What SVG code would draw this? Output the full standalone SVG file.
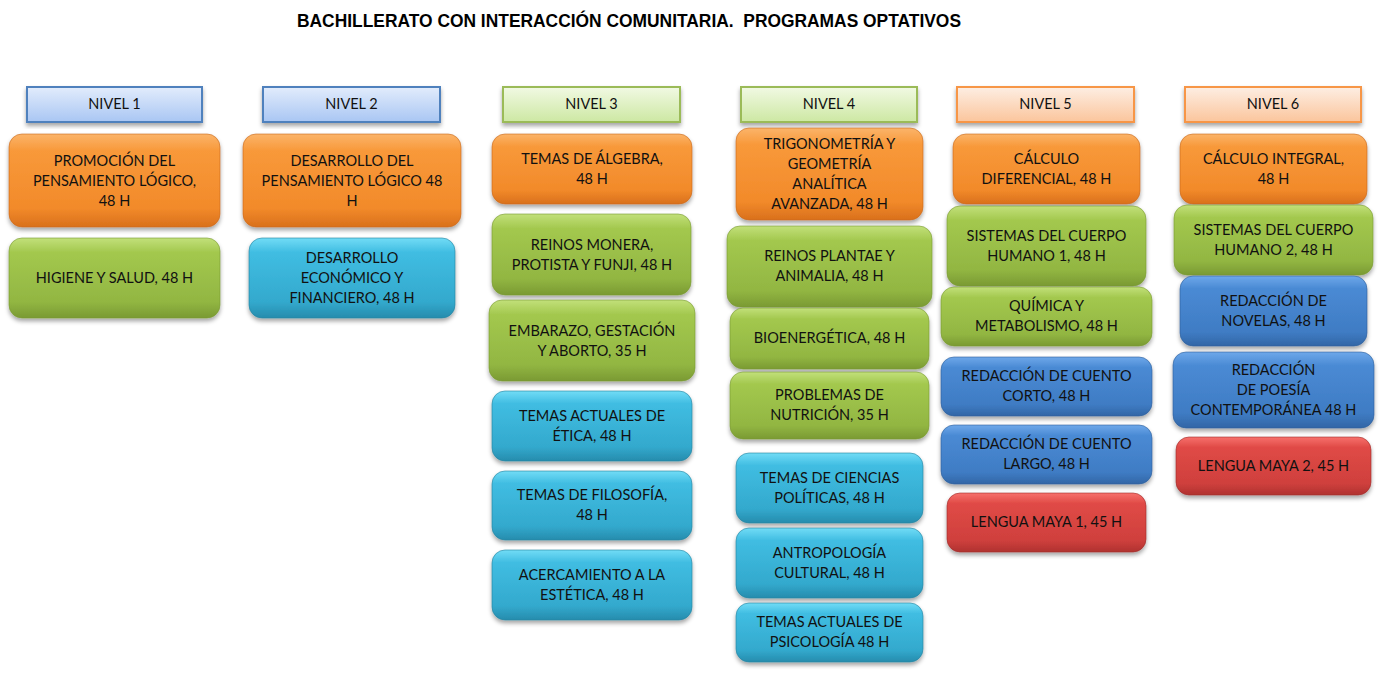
<svg xmlns="http://www.w3.org/2000/svg" width="1382" height="676" viewBox="0 0 1382 676">
<defs>
<linearGradient id="gO" x1="0" y1="0" x2="0" y2="1"><stop offset="0" stop-color="#fbb46a"/><stop offset="0.18" stop-color="#f8993a"/><stop offset="0.8" stop-color="#f28a2a"/><stop offset="1" stop-color="#d9701c"/></linearGradient>
<linearGradient id="gG" x1="0" y1="0" x2="0" y2="1"><stop offset="0" stop-color="#c2e07a"/><stop offset="0.18" stop-color="#a3c84e"/><stop offset="0.8" stop-color="#92b642"/><stop offset="1" stop-color="#7a9a33"/></linearGradient>
<linearGradient id="gC" x1="0" y1="0" x2="0" y2="1"><stop offset="0" stop-color="#72dcf6"/><stop offset="0.18" stop-color="#40bde2"/><stop offset="0.8" stop-color="#33a9cd"/><stop offset="1" stop-color="#268cad"/></linearGradient>
<linearGradient id="gB" x1="0" y1="0" x2="0" y2="1"><stop offset="0" stop-color="#6ea8ea"/><stop offset="0.18" stop-color="#4a8ad4"/><stop offset="0.8" stop-color="#3f7cc4"/><stop offset="1" stop-color="#3266a6"/></linearGradient>
<linearGradient id="gR" x1="0" y1="0" x2="0" y2="1"><stop offset="0" stop-color="#f7716c"/><stop offset="0.18" stop-color="#e04a46"/><stop offset="0.8" stop-color="#cf403d"/><stop offset="1" stop-color="#b03230"/></linearGradient>
<linearGradient id="hB" x1="0" y1="0" x2="0" y2="1"><stop offset="0" stop-color="#e2ecfc"/><stop offset="1" stop-color="#a9c6f3"/></linearGradient>
<linearGradient id="hG" x1="0" y1="0" x2="0" y2="1"><stop offset="0" stop-color="#f1f9e3"/><stop offset="1" stop-color="#cde8a3"/></linearGradient>
<linearGradient id="hO" x1="0" y1="0" x2="0" y2="1"><stop offset="0" stop-color="#fdeee3"/><stop offset="1" stop-color="#fbc59c"/></linearGradient>
<filter id="sh" x="-10%" y="-10%" width="120%" height="130%"><feDropShadow dx="0" dy="3" stdDeviation="2" flood-color="#000" flood-opacity="0.35"/></filter>
</defs>
<style>
.t{font-family:Lato,"Liberation Sans",sans-serif;font-size:14.5px;fill:#111;text-anchor:middle}
.ttl{font-family:"Liberation Sans",Arial,sans-serif;font-size:19px;font-weight:bold;fill:#000;text-anchor:middle;white-space:pre}
.o{fill:url(#gO);stroke:#c8691c;stroke-opacity:.6;stroke-width:1;filter:url(#sh)}
.g{fill:url(#gG);stroke:#7a9a33;stroke-opacity:.6;stroke-width:1;filter:url(#sh)}
.c{fill:url(#gC);stroke:#24829f;stroke-opacity:.6;stroke-width:1;filter:url(#sh)}
.b{fill:url(#gB);stroke:#2f5f99;stroke-opacity:.6;stroke-width:1;filter:url(#sh)}
.r{fill:url(#gR);stroke:#9c2c2a;stroke-opacity:.6;stroke-width:1;filter:url(#sh)}
.hb{fill:url(#hB);stroke:#4f81bd;stroke-width:2;filter:url(#sh)}
.hg{fill:url(#hG);stroke:#9bbb59;stroke-width:2;filter:url(#sh)}
.ho{fill:url(#hO);stroke:#f79646;stroke-width:2;filter:url(#sh)}
</style>
<rect width="1382" height="676" fill="#fff"/>
<text class="ttl" x="629" y="27" textLength="664" lengthAdjust="spacingAndGlyphs" xml:space="preserve">BACHILLERATO CON INTERACCIÓN COMUNITARIA.&#160; PROGRAMAS OPTATIVOS</text>

<g id="h1"><rect class="hb" x="27" y="87" width="175" height="35"/><text class="t" x="114.5" y="109">NIVEL 1</text></g>
<g id="h2"><rect class="hb" x="263" y="87" width="177" height="35"/><text class="t" x="351.5" y="109">NIVEL 2</text></g>
<g id="h3"><rect class="hg" x="503" y="87" width="177" height="35"/><text class="t" x="591.5" y="109">NIVEL 3</text></g>
<g id="h4"><rect class="hg" x="741" y="87" width="176" height="35"/><text class="t" x="829" y="109">NIVEL 4</text></g>
<g id="h5"><rect class="ho" x="957" y="87" width="177" height="35"/><text class="t" x="1045.5" y="109">NIVEL 5</text></g>
<g id="h6"><rect class="ho" x="1185" y="87" width="176" height="35"/><text class="t" x="1273" y="109">NIVEL 6</text></g>

<g id="n1a"><rect class="o" x="9" y="134" width="211" height="93" rx="13"/><text class="t" x="114.5" y="166">PROMOCIÓN DEL<tspan x="114.5" dy="20">PENSAMIENTO LÓGICO,</tspan><tspan x="114.5" dy="20">48 H</tspan></text></g>
<g id="n1b"><rect class="g" x="9" y="238" width="211" height="80" rx="13"/><text class="t" x="114.5" y="283">HIGIENE Y SALUD, 48 H</text></g>

<g id="n2a"><rect class="o" x="243" y="134" width="218" height="93" rx="13"/><text class="t" x="352" y="166">DESARROLLO DEL<tspan x="352" dy="20">PENSAMIENTO LÓGICO 48</tspan><tspan x="352" dy="20">H</tspan></text></g>
<g id="n2b"><rect class="c" x="249" y="238" width="206" height="80" rx="13"/><text class="t" x="352" y="263">DESARROLLO<tspan x="352" dy="20">ECONÓMICO Y</tspan><tspan x="352" dy="20">FINANCIERO, 48 H</tspan></text></g>

<g id="n3a"><rect class="o" x="492" y="134" width="200" height="70" rx="13"/><text class="t" x="592" y="164">TEMAS DE ÁLGEBRA,<tspan x="592" dy="20">48 H</tspan></text></g>
<g id="n3b"><rect class="g" x="492" y="214" width="199" height="81" rx="13"/><text class="t" x="592" y="250">REINOS MONERA,<tspan x="592" dy="20">PROTISTA Y FUNJI, 48 H</tspan></text></g>
<g id="n3c"><rect class="g" x="489" y="300" width="206" height="81" rx="13"/><text class="t" x="592" y="336">EMBARAZO, GESTACIÓN<tspan x="592" dy="20">Y ABORTO, 35 H</tspan></text></g>
<g id="n3d"><rect class="c" x="492" y="391" width="200" height="70" rx="13"/><text class="t" x="592" y="421">TEMAS ACTUALES DE<tspan x="592" dy="20">ÉTICA, 48 H</tspan></text></g>
<g id="n3e"><rect class="c" x="492" y="471" width="200" height="69" rx="13"/><text class="t" x="592" y="500">TEMAS DE FILOSOFÍA,<tspan x="592" dy="20">48 H</tspan></text></g>
<g id="n3f"><rect class="c" x="492" y="550" width="200" height="70" rx="13"/><text class="t" x="592" y="580">ACERCAMIENTO A LA<tspan x="592" dy="20">ESTÉTICA, 48 H</tspan></text></g>

<g id="n4a"><rect class="o" x="736" y="128" width="187" height="92" rx="13"/><text class="t" x="829.5" y="149">TRIGONOMETRÍA Y<tspan x="829.5" dy="20">GEOMETRÍA</tspan><tspan x="829.5" dy="20">ANALÍTICA</tspan><tspan x="829.5" dy="20">AVANZADA, 48 H</tspan></text></g>
<g id="n4b"><rect class="g" x="727" y="226" width="205" height="81" rx="13"/><text class="t" x="829.5" y="261">REINOS PLANTAE Y<tspan x="829.5" dy="20">ANIMALIA, 48 H</tspan></text></g>
<g id="n4c"><rect class="g" x="730" y="308" width="199" height="61" rx="13"/><text class="t" x="829.5" y="343">BIOENERGÉTICA, 48 H</text></g>
<g id="n4d"><rect class="g" x="730" y="372" width="199" height="67" rx="13"/><text class="t" x="829.5" y="400">PROBLEMAS DE<tspan x="829.5" dy="20">NUTRICIÓN, 35 H</tspan></text></g>
<g id="n4e"><rect class="c" x="736" y="453" width="187" height="70" rx="13"/><text class="t" x="829.5" y="483">TEMAS DE CIENCIAS<tspan x="829.5" dy="20">POLÍTICAS, 48 H</tspan></text></g>
<g id="n4f"><rect class="c" x="736" y="528" width="187" height="70" rx="13"/><text class="t" x="829.5" y="558">ANTROPOLOGÍA<tspan x="829.5" dy="20">CULTURAL, 48 H</tspan></text></g>
<g id="n4g"><rect class="c" x="736" y="603" width="187" height="59" rx="13"/><text class="t" x="829.5" y="627">TEMAS ACTUALES DE<tspan x="829.5" dy="20">PSICOLOGÍA 48 H</tspan></text></g>

<g id="n5a"><rect class="o" x="953" y="134" width="187" height="70" rx="13"/><text class="t" x="1046.5" y="164">CÁLCULO<tspan x="1046.5" dy="20">DIFERENCIAL, 48 H</tspan></text></g>
<g id="n5b"><rect class="g" x="947" y="206" width="199" height="80" rx="13"/><text class="t" x="1046.5" y="241">SISTEMAS DEL CUERPO<tspan x="1046.5" dy="20">HUMANO 1, 48 H</tspan></text></g>
<g id="n5c"><rect class="g" x="941" y="287" width="211" height="59" rx="13"/><text class="t" x="1046.5" y="311">QUÍMICA Y<tspan x="1046.5" dy="20">METABOLISMO, 48 H</tspan></text></g>
<g id="n5d"><rect class="b" x="941" y="357" width="211" height="59" rx="13"/><text class="t" x="1046.5" y="381">REDACCIÓN DE CUENTO<tspan x="1046.5" dy="20">CORTO, 48 H</tspan></text></g>
<g id="n5e"><rect class="b" x="941" y="425" width="211" height="59" rx="13"/><text class="t" x="1046.5" y="449">REDACCIÓN DE CUENTO<tspan x="1046.5" dy="20">LARGO, 48 H</tspan></text></g>
<g id="n5f"><rect class="r" x="947" y="493" width="199" height="59" rx="13"/><text class="t" x="1046.5" y="527">LENGUA MAYA 1, 45 H</text></g>

<g id="n6a"><rect class="o" x="1180" y="134" width="187" height="70" rx="13"/><text class="t" x="1273.5" y="164">CÁLCULO INTEGRAL,<tspan x="1273.5" dy="20">48 H</tspan></text></g>
<g id="n6b"><rect class="g" x="1174" y="205" width="199" height="70" rx="13"/><text class="t" x="1273.5" y="235">SISTEMAS DEL CUERPO<tspan x="1273.5" dy="20">HUMANO 2, 48 H</tspan></text></g>
<g id="n6c"><rect class="b" x="1180" y="276" width="187" height="70" rx="13"/><text class="t" x="1273.5" y="306">REDACCIÓN DE<tspan x="1273.5" dy="20">NOVELAS, 48 H</tspan></text></g>
<g id="n6d"><rect class="b" x="1173" y="352" width="201" height="76" rx="13"/><text class="t" x="1273.5" y="375">REDACCIÓN<tspan x="1273.5" dy="20">DE POESÍA</tspan><tspan x="1273.5" dy="20">CONTEMPORÁNEA 48 H</tspan></text></g>
<g id="n6e"><rect class="r" x="1176" y="437" width="195" height="58" rx="13"/><text class="t" x="1273.5" y="471">LENGUA MAYA 2, 45 H</text></g>
</svg>
